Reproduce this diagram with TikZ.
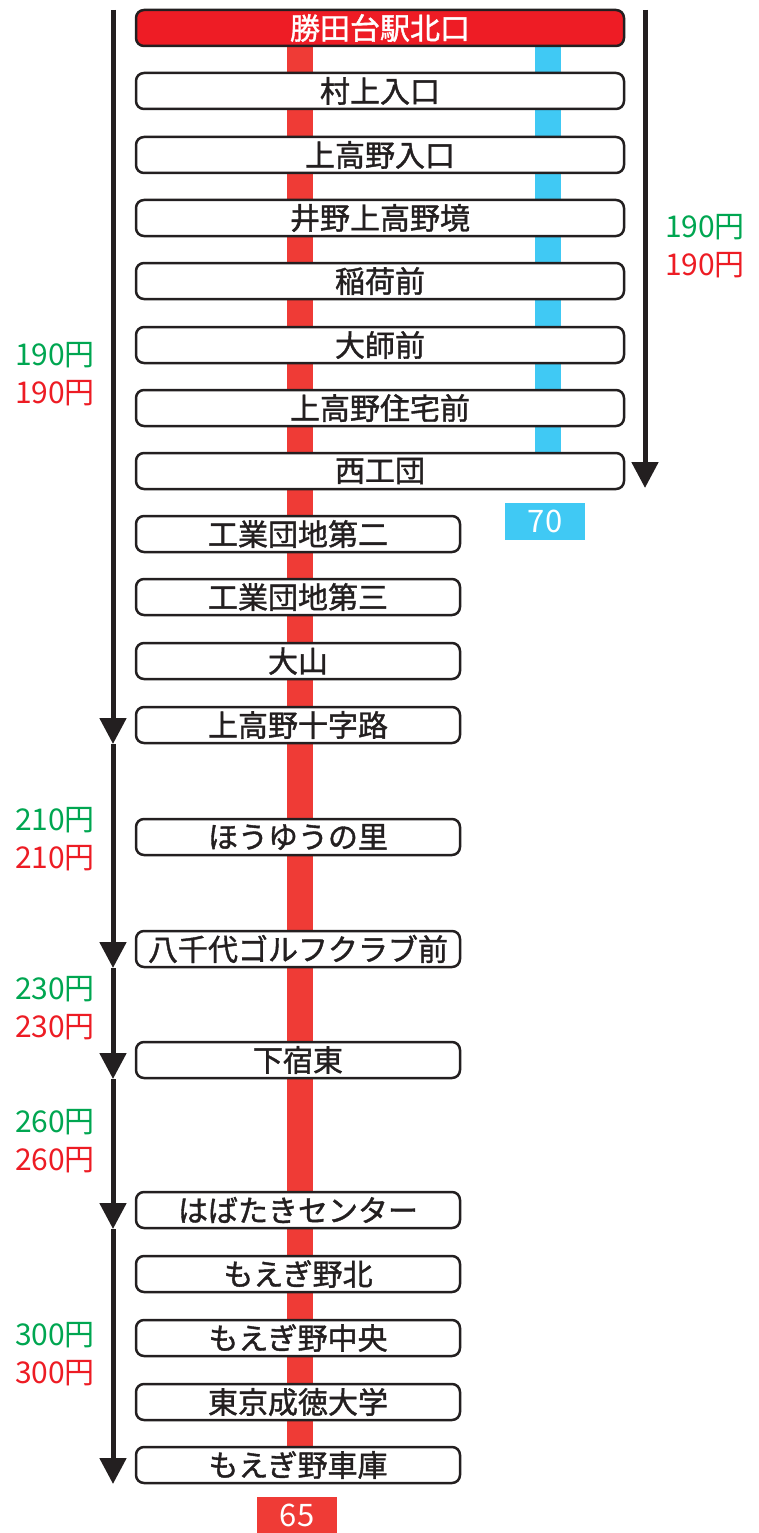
\documentclass[tikz,border=0pt]{standalone}
\usepackage{fontspec}
\setmainfont{Noto Sans CJK JP}
\newfontfamily\stopfont{Noto Sans CJK JP}[FakeBold=1.3]
\usetikzlibrary{arrows.meta}
\definecolor{linered}{HTML}{EF3B36}
\definecolor{lineblue}{HTML}{40C9F4}
\definecolor{headred}{HTML}{EE1C25}
\definecolor{fareGreen}{HTML}{00A651}
\definecolor{fareRed}{HTML}{ED1C24}
\definecolor{ink}{HTML}{231F20}
\tikzset{
  stop/.style={draw=ink, line width=2.5pt, rounded corners=8pt, fill=white,
    minimum height=36pt, inner sep=0pt, font=\stopfont\fontsize{30}{30}\selectfont, text=ink},
  widestop/.style={stop, minimum width=488pt},
  shortstop/.style={stop, minimum width=324pt},
  fare/.style={font=\fontsize{30}{38}\selectfont, align=right, anchor=center},
  numbox/.style={minimum width=80pt, minimum height=37pt, inner sep=0pt,
    text=white, font=\fontsize{31}{31}\selectfont},
  span/.style={ink, line width=5pt, -{Triangle[width=26pt,length=26pt]}}
}
\begin{document}
\begin{tikzpicture}[x=1pt,y=-1pt]
    \useasboundingbox (0,0) rectangle (758,1533);

    % route bars
    \fill[linered] (287,46) rectangle (313,1446);
    \fill[lineblue] (535,46) rectangle (561,452);

    % stops
    \node[widestop, fill=headred, text=white] (s0) at (380,28) {勝田台駅北口};
    \node[widestop] (s1) at (380,91) {村上入口};
    \node[widestop] (s2) at (380,155) {上高野入口};
    \node[widestop] (s3) at (380,218) {井野上高野境};
    \node[widestop] (s4) at (380,281) {稲荷前};
    \node[widestop] (s5) at (380,345) {大師前};
    \node[widestop] (s6) at (380,408) {上高野住宅前};
    \node[widestop] (s7) at (380,471) {西工団};
    \node[shortstop] (s8) at (298,534) {工業団地第二};
    \node[shortstop] (s9) at (298,597) {工業団地第三};
    \node[shortstop] (s10) at (298,661) {大山};
    \node[shortstop] (s11) at (298,725) {上高野十字路};
    \node[shortstop] (s12) at (298,837) {ほうゆうの里};
    \node[shortstop] (s13) at (298,949) {八千代ゴルフクラブ前};
    \node[shortstop] (s14) at (298,1060) {下宿東};
    \node[shortstop] (s15) at (298,1210) {はばたきセンター};
    \node[shortstop] (s16) at (298,1274) {もえぎ野北};
    \node[shortstop] (s17) at (298,1338) {もえぎ野中央};
    \node[shortstop] (s18) at (298,1402) {東京成徳大学};
    \node[shortstop] (s19) at (298,1465) {もえぎ野車庫};

    % route numbers
    \node[numbox, fill=lineblue] (n70) at (545,521) {70};
    \node[numbox, fill=linered] (n65) at (297,1515) {65};

    % fare spans
    \coordinate (r0) at (645,10);
    \coordinate (r1) at (645,488);
    \draw[span] (r0) -- (r1);
    \coordinate (l0) at (113,10);
    \coordinate (l1) at (113,744);
    \coordinate (l2) at (113,968);
    \coordinate (l3) at (113,1079);
    \coordinate (l4) at (113,1229);
    \coordinate (l5) at (113,1484);
    \draw[span] (l0) -- (l1);
    \draw[span] (l1) -- (l2);
    \draw[span] (l2) -- (l3);
    \draw[span] (l3) -- (l4);
    \draw[span] (l4) -- (l5);

    % fares
    \node[fare] (fr) at (705,246) {\textcolor{fareGreen}{190円}\\\textcolor{fareRed}{190円}};
    \node[fare] (f1) at (55,374) {\textcolor{fareGreen}{190円}\\\textcolor{fareRed}{190円}};
    \node[fare] (f2) at (55,839) {\textcolor{fareGreen}{210円}\\\textcolor{fareRed}{210円}};
    \node[fare] (f3) at (55,1008) {\textcolor{fareGreen}{230円}\\\textcolor{fareRed}{230円}};
    \node[fare] (f4) at (55,1141) {\textcolor{fareGreen}{260円}\\\textcolor{fareRed}{260円}};
    \node[fare] (f5) at (55,1354) {\textcolor{fareGreen}{300円}\\\textcolor{fareRed}{300円}};
\end{tikzpicture}
\end{document}
